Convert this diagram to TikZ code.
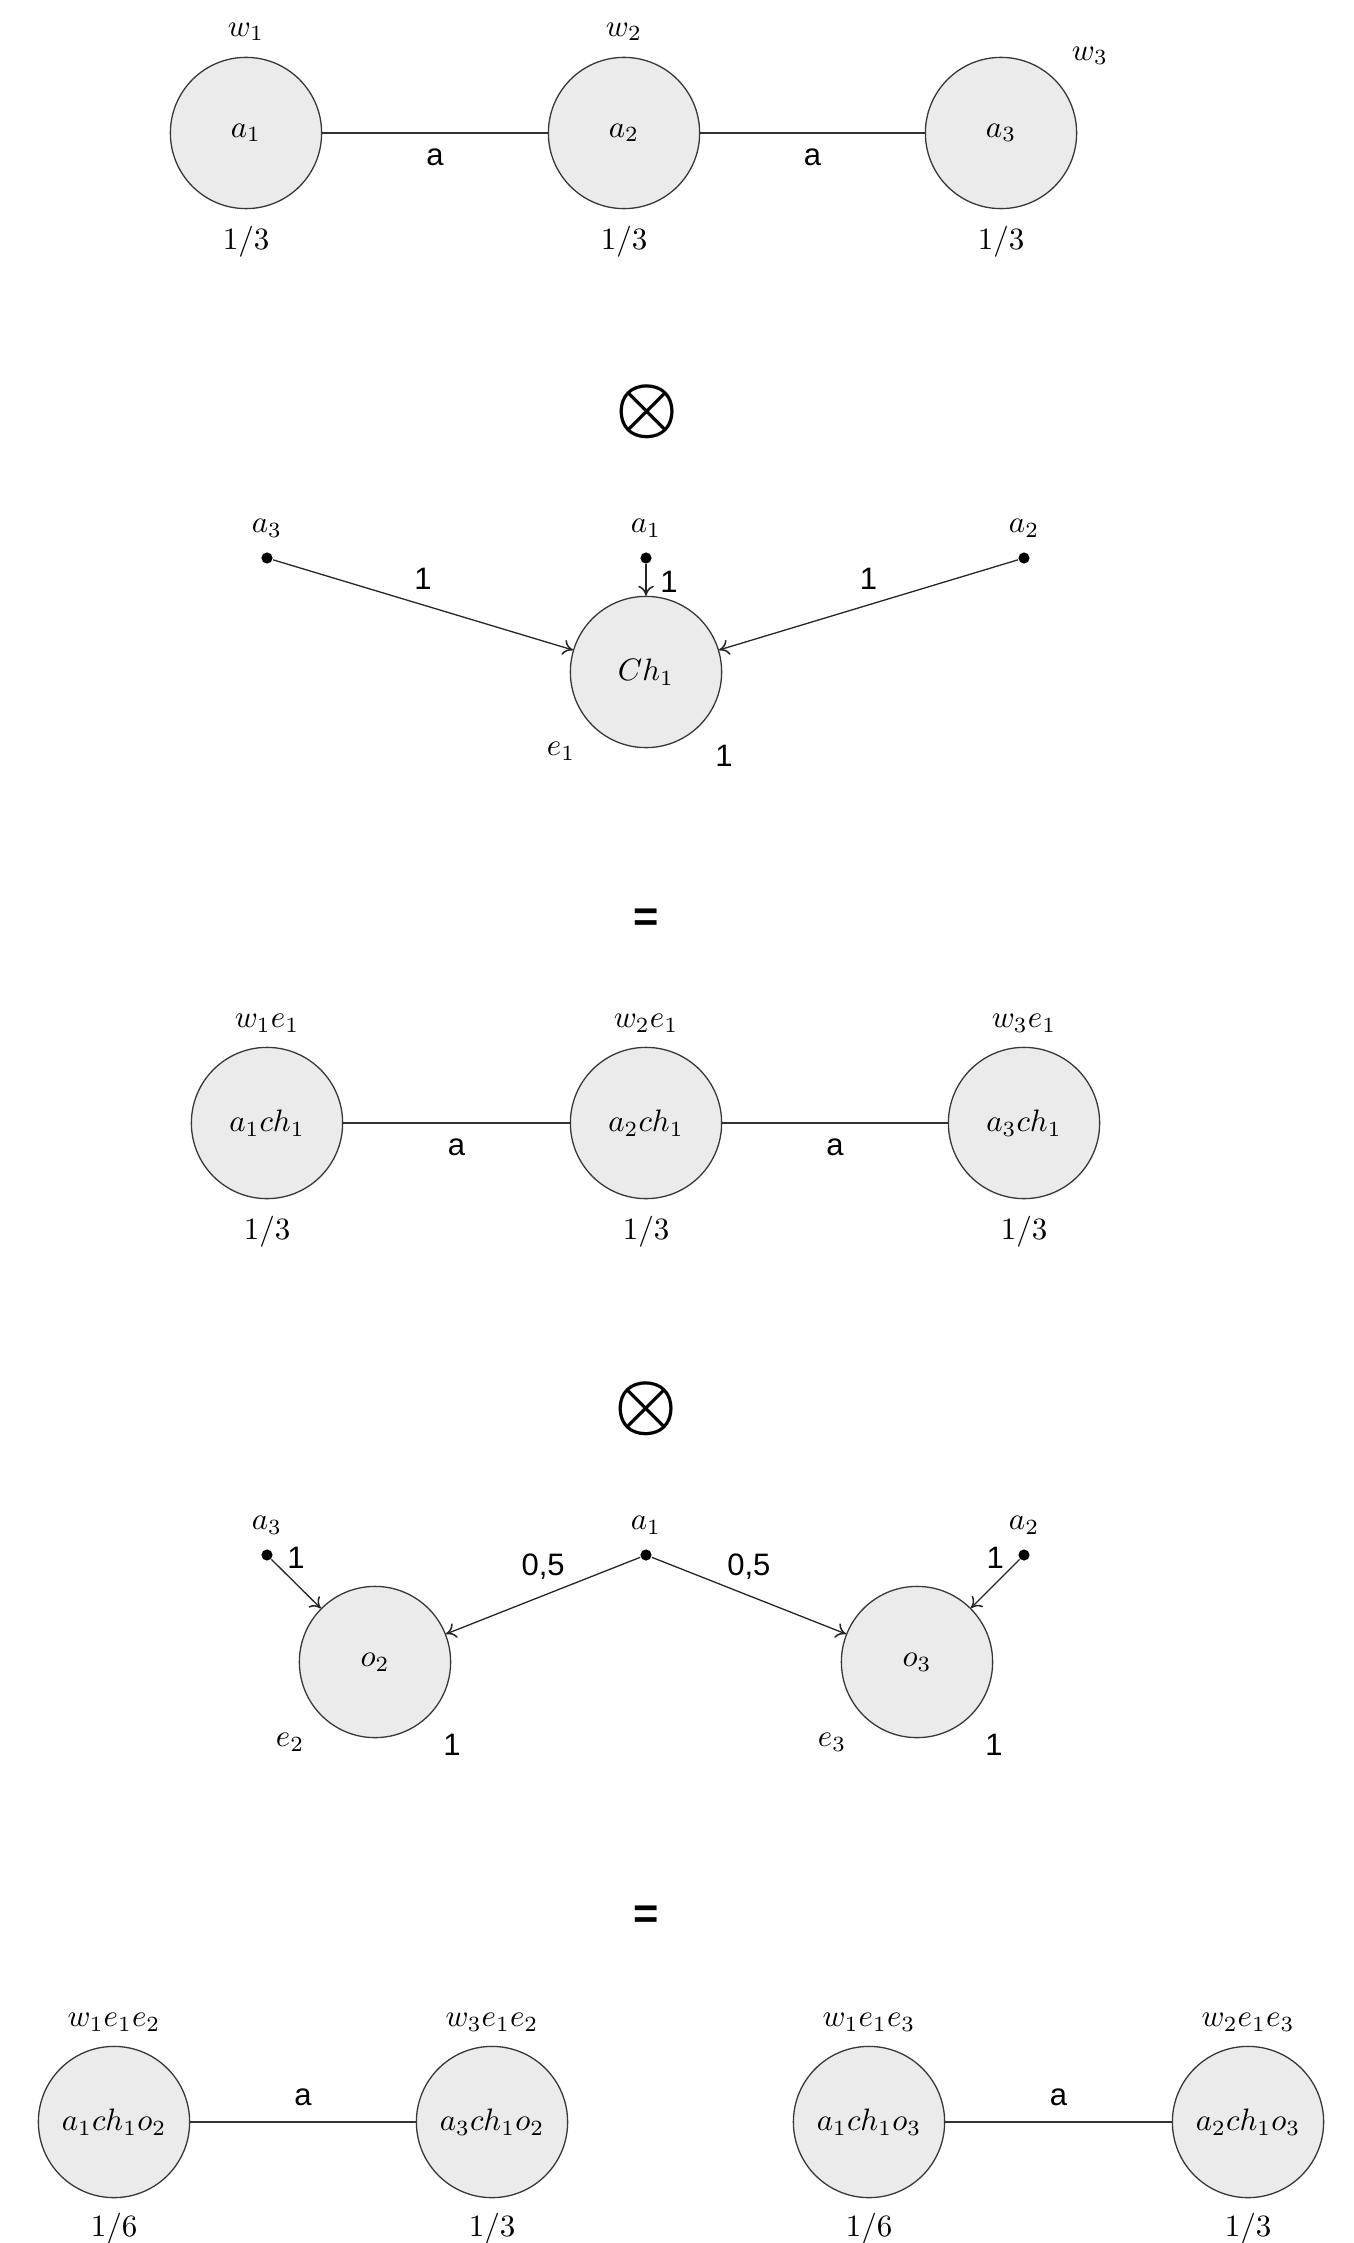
\documentclass[tikz,border=0pt]{standalone}
\usepackage{fontspec}
\usepackage{graphicx}
\usetikzlibrary{arrows.meta}
\newfontfamily\labfont{Liberation Sans}
\newfontfamily\eqfont{Liberation Sans}
\begin{document}
\begin{tikzpicture}[x=0.3226pt, y=-0.3226pt,
  circ/.style={circle, draw=black!78, fill=black!8, minimum size=48.8pt, inner sep=0pt, line width=0.42pt},
  dotn/.style={circle, fill=black, minimum size=3.6pt, inner sep=0pt},
  lab/.style={inner sep=0pt, font=\labfont\fontsize{10}{12}\selectfont},
  mlab/.style={inner sep=0pt},
  edge/.style={draw=black!80, line width=0.42pt},
  arr/.style={draw=black!85, line width=0.42pt, -{To[length=3.2pt,width=5pt,line width=0.5pt]}},
  opsym/.style={inner sep=0pt},
  eqsym/.style={inner sep=0pt, font=\eqfont\bfseries\fontsize{14}{14}\selectfont}]
\useasboundingbox (0,0) rectangle (1353,2243);

% ---------- Row 1 ----------
\node[circ] (A1) at (246,133) {$a_1$};
\node[circ] (A2) at (624,133) {$a_2$};
\node[circ] (A3) at (1001,133) {$a_3$};
\node[mlab] (wA1) at (246,32) {$w_1$};
\node[mlab] (wA2) at (624,32) {$w_2$};
\node[mlab] (wA3) at (1090,56) {$w_3$};
\node[mlab] (pA1) at (246,242) {$1/3$};
\node[mlab] (pA2) at (624,242) {$1/3$};
\node[mlab] (pA3) at (1001,242) {$1/3$};
\draw[edge] (A1) -- node[lab, yshift=-7.9pt] (eA12) {a} (A2);
\draw[edge] (A2) -- node[lab, yshift=-7.9pt] (eA23) {a} (A3);

% ---------- otimes 1 ----------
\node[opsym] (ot1) at (647,412) {\scalebox{2.28}{\boldmath$\otimes$}};

% ---------- Row 2 ----------
\node[dotn] (D3) at (267,558) {};
\node[dotn] (D1) at (646,558) {};
\node[dotn] (D2) at (1024,558) {};
\node[mlab] (lD3) at (267,528) {$a_3$};
\node[mlab] (lD1) at (646,528) {$a_1$};
\node[mlab] (lD2) at (1024,528) {$a_2$};
\node[circ] (CH) at (646,672) {$Ch_1$};
\draw[arr] (D3) -- node[lab, yshift=8.3pt] (eD3) {1} (CH);
\draw[arr] (D1) -- node[lab, xshift=7.4pt, yshift=-0.6pt] (eD1) {1} (CH);
\draw[arr] (D2) -- node[lab, yshift=8.3pt] (eD2) {1} (CH);
\node[mlab] (e1) at (561,751) {$e_1$};
\node[lab] (pCH) at (724,756) {1};

% ---------- equals 1 ----------
\node[eqsym] (eq1) at (646,920) {=};

% ---------- Row 3 ----------
\node[circ] (B1) at (267,1123) {$a_1ch_1$};
\node[circ] (B2) at (646,1123) {$a_2ch_1$};
\node[circ] (B3) at (1024,1123) {$a_3ch_1$};
\node[mlab] (wB1) at (267,1023) {$w_1e_1$};
\node[mlab] (wB2) at (646,1023) {$w_2e_1$};
\node[mlab] (wB3) at (1024,1023) {$w_3e_1$};
\node[mlab] (pB1) at (267,1232) {$1/3$};
\node[mlab] (pB2) at (646,1232) {$1/3$};
\node[mlab] (pB3) at (1024,1232) {$1/3$};
\draw[edge] (B1) -- node[lab, yshift=-7.9pt] (eB12) {a} (B2);
\draw[edge] (B2) -- node[lab, yshift=-7.9pt] (eB23) {a} (B3);

% ---------- otimes 2 ----------
\node[opsym] (ot2) at (646,1409) {\scalebox{2.28}{\boldmath$\otimes$}};

% ---------- Row 4 ----------
\node[dotn] (E3) at (267,1555) {};
\node[dotn] (E1) at (646,1555) {};
\node[dotn] (E2) at (1024,1555) {};
\node[mlab] (lE3) at (267,1525) {$a_3$};
\node[mlab] (lE1) at (646,1525) {$a_1$};
\node[mlab] (lE2) at (1024,1525) {$a_2$};
\node[circ] (O2) at (375,1662) {$o_2$};
\node[circ] (O3) at (917,1662) {$o_3$};
\draw[arr] (E3) -- node[lab, yshift=8.3pt] (eE3) {1} (O2);
\draw[arr] (E1) -- node[lab, yshift=9.4pt] (eE1a) {0,5} (O2);
\draw[arr] (E1) -- node[lab, yshift=9.4pt] (eE1b) {0,5} (O3);
\draw[arr] (E2) -- node[lab, yshift=8.3pt] (eE2) {1} (O3);
\node[mlab] (e2) at (290,1742) {$e_2$};
\node[lab] (pO2) at (452,1745) {1};
\node[mlab] (e3) at (832,1742) {$e_3$};
\node[lab] (pO3) at (994,1745) {1};

% ---------- equals 2 ----------
\node[eqsym] (eq2) at (646,1917) {=};

% ---------- Row 5 ----------
\node[circ] (C1) at (114,2122) {$a_1ch_1o_2$};
\node[circ] (C2) at (492,2122) {$a_3ch_1o_2$};
\node[circ] (C3) at (869,2122) {$a_1ch_1o_3$};
\node[circ] (C4) at (1248,2122) {$a_2ch_1o_3$};
\node[mlab] (wC1) at (114,2022) {$w_1e_1e_2$};
\node[mlab] (wC2) at (492,2022) {$w_3e_1e_2$};
\node[mlab] (wC3) at (869,2022) {$w_1e_1e_3$};
\node[mlab] (wC4) at (1248,2022) {$w_2e_1e_3$};
\node[mlab] (pC1) at (114,2229) {$1/6$};
\node[mlab] (pC2) at (492,2229) {$1/3$};
\node[mlab] (pC3) at (869,2229) {$1/6$};
\node[mlab] (pC4) at (1248,2229) {$1/3$};
\draw[edge] (C1) -- node[lab, yshift=8.0pt] (eC12) {a} (C2);
\draw[edge] (C3) -- node[lab, yshift=8.0pt] (eC34) {a} (C4);
\end{tikzpicture}
\end{document}
